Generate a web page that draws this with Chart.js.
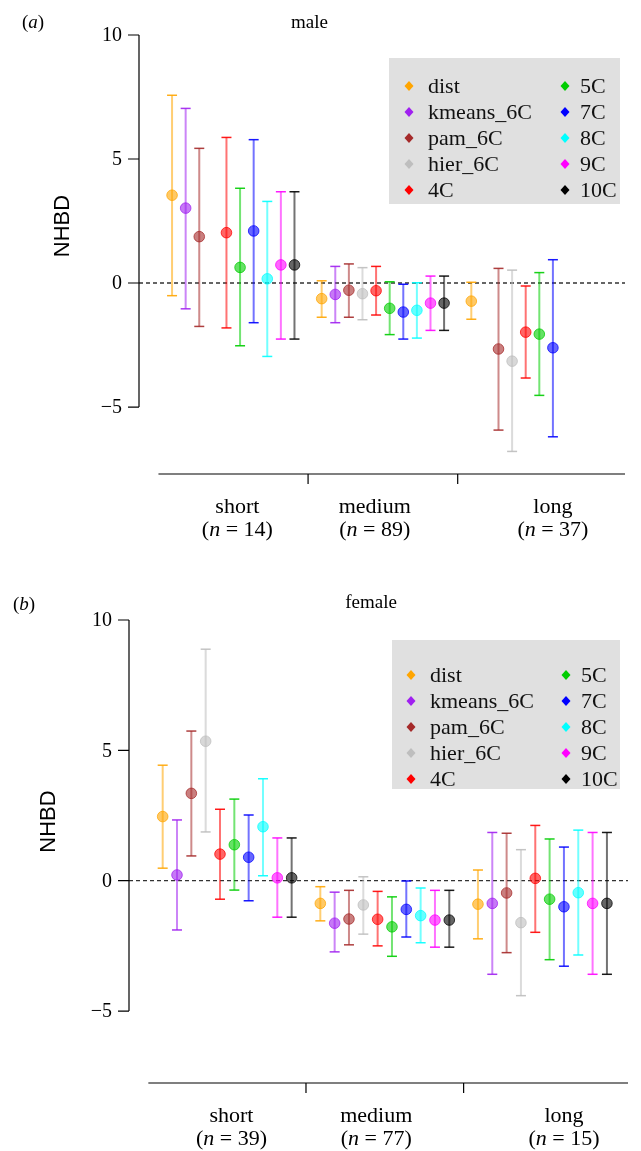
<!DOCTYPE html>
<html lang="en">
<head>
<meta charset="UTF-8" />
<title>NHBD by length class</title>
<script src="https://cdn.jsdelivr.net/npm/chart.js"></script>
<style>
  body { margin: 0; background: #fff; }
  canvas { display: block; }
</style>
</head>
<body>
<canvas id="chartMale" width="641" height="575"></canvas>
<canvas id="chartFemale" width="641" height="576"></canvas>
<script>
  const methods = ['dist', 'kmeans_6C', 'pam_6C', 'hier_6C', '4C', '5C', '7C', '8C', '9C', '10C'];
  const methodColors = ['255,165,0', '160,32,240', '165,42,42', '190,190,190', '255,0,0',
                        '0,205,0', '0,0,255', '0,255,255', '255,0,255', '0,0,0'];
  const groups = ['short', 'medium', 'long'];
  const yTicks = [-5, 0, 5, 10];

  // rows = short, medium, long ; columns follow `methods` ; null = not shown
  const maleN = [14, 89, 37];
  const maleMean = [
    [3.54, 3.02, 1.87, null, 2.03, 0.63, 2.10, 0.17, 0.73, 0.73],
    [-0.63, -0.46, -0.29, -0.43, -0.31, -1.02, -1.17, -1.10, -0.81, -0.81],
    [-0.73, null, -2.66, -3.15, -1.98, -2.06, -2.61, null, null, null]
  ];
  const maleLower = [
    [-0.51, -1.04, -1.75, null, -1.81, -2.53, -1.60, -2.96, -2.26, -2.26],
    [-1.38, -1.60, -1.38, -1.48, -1.29, -2.08, -2.26, -2.22, -1.91, -1.91],
    [-1.46, null, -5.93, -6.79, -3.83, -4.53, -6.20, null, null, null]
  ];
  const maleUpper = [
    [7.57, 7.04, 5.43, null, 5.87, 3.82, 5.78, 3.29, 3.68, 3.68],
    [0.09, 0.67, 0.77, 0.62, 0.67, 0.05, -0.05, 0.01, 0.28, 0.28],
    [0.03, null, 0.59, 0.52, -0.12, 0.42, 0.94, null, null, null]
  ];

  const femaleN = [39, 77, 15];
  const femaleMean = [
    [2.46, 0.22, 3.35, 5.35, 1.02, 1.38, 0.90, 2.07, 0.11, 0.11],
    [-0.87, -1.63, -1.47, -0.93, -1.48, -1.77, -1.10, -1.34, -1.51, -1.51],
    [-0.90, -0.87, -0.47, -1.61, 0.09, -0.71, -1.00, -0.46, -0.87, -0.87]
  ];
  const femaleLower = [
    [0.48, -1.89, 0.95, 1.87, -0.71, -0.36, -0.77, 0.19, -1.40, -1.40],
    [-1.54, -2.73, -2.46, -2.05, -2.50, -2.90, -2.16, -2.38, -2.55, -2.55],
    [-2.23, -3.59, -2.76, -4.41, -1.98, -3.03, -3.28, -2.85, -3.59, -3.59]
  ];
  const femaleUpper = [
    [4.43, 2.33, 5.74, 8.88, 2.74, 3.13, 2.52, 3.91, 1.64, 1.64],
    [-0.23, -0.44, -0.37, 0.15, -0.41, -0.62, -0.01, -0.28, -0.37, -0.37],
    [0.41, 1.85, 1.82, 1.19, 2.12, 1.60, 1.29, 1.94, 1.85, 1.85]
  ];

  // x position of a method inside its group (one empty slot between groups)
  const SLOTS_PER_GROUP = 11;
  const dividerSlots = [10, 21];
  const groupLabelSlots = [4.8, 14.9, 28];

  const SERIF = '"Liberation Serif", "Times New Roman", serif';
  const SANS = '"Liberation Sans", Arial, sans-serif';

  function rgba(c, a) { return `rgba(${c},${a})`; }

  function buildDatasets(mean, lower, upper) {
    const sets = [];
    methods.forEach((m, mi) => {
      const bars = [], dots = [];
      groups.forEach((g, gi) => {
        if (mean[gi][mi] === null) return;
        const x = gi * SLOTS_PER_GROUP + mi;
        bars.push({ x, y: lower[gi][mi] }, { x, y: upper[gi][mi] }, { x, y: null });
        dots.push({ x, y: mean[gi][mi] });
      });
      const c = methodColors[mi];
      sets.push({
        label: m,
        data: dots,
        backgroundColor: rgba(c, 0.6),
        borderColor: rgba(c, 0.75),
        borderWidth: 1,
        pointRadius: 5.3,
        clip: false
      });
      sets.push({
        label: m + ' CI',
        data: bars,
        showLine: true,
        spanGaps: false,
        borderColor: rgba(c, 0.55),
        borderWidth: 2,
        pointStyle: 'line',
        pointRadius: 5,
        pointBorderColor: rgba(c, 0.9),
        pointBorderWidth: 1.5,
        clip: false
      });
    });
    return sets;
  }

  function drawSerifPieces(ctx, pieces, cx, cy, size) {
    let w = 0;
    pieces.forEach(p => {
      ctx.font = `${p.italic ? 'italic ' : ''}${size}px ${SERIF}`;
      w += ctx.measureText(p.t).width;
    });
    let x = cx - w / 2;
    ctx.textAlign = 'left';
    pieces.forEach(p => {
      ctx.font = `${p.italic ? 'italic ' : ''}${size}px ${SERIF}`;
      ctx.fillText(p.t, x, cy);
      x += ctx.measureText(p.t).width;
    });
  }

  const rAxes = {
    id: 'rAxes',
    beforeDatasetsDraw(chart) {
      const { ctx, chartArea, scales: { y } } = chart;
      const y0 = y.getPixelForValue(0);
      ctx.save();
      ctx.strokeStyle = '#333';
      ctx.lineWidth = 1.3;
      ctx.setLineDash([4, 3]);
      ctx.beginPath();
      ctx.moveTo(chartArea.left, y0);
      ctx.lineTo(chartArea.right, y0);
      ctx.stroke();
      ctx.restore();
    },
    afterDraw(chart, args, opts) {
      const { ctx, chartArea, scales: { x, y } } = chart;
      ctx.save();
      ctx.strokeStyle = '#000';
      ctx.fillStyle = '#000';
      ctx.lineWidth = 1.2;

      // y axis
      const ax = chartArea.left;
      ctx.beginPath();
      ctx.moveTo(ax, y.getPixelForValue(yTicks[yTicks.length - 1]));
      ctx.lineTo(ax, y.getPixelForValue(yTicks[0]));
      yTicks.forEach(t => {
        const py = y.getPixelForValue(t);
        ctx.moveTo(ax - 11, py);
        ctx.lineTo(ax, py);
      });
      ctx.stroke();
      ctx.font = `20px ${SERIF}`;
      ctx.textAlign = 'right';
      ctx.textBaseline = 'middle';
      yTicks.forEach(t => {
        ctx.fillText(t < 0 ? '\u2212' + Math.abs(t) : String(t), ax - 17, y.getPixelForValue(t) + 1);
      });

      // x axis
      const by = chartArea.bottom;
      ctx.beginPath();
      ctx.moveTo(x.getPixelForValue(-1), by);
      ctx.lineTo(chartArea.right, by);
      dividerSlots.forEach(s => {
        const px = x.getPixelForValue(s);
        ctx.moveTo(px, by);
        ctx.lineTo(px, by + 10);
      });
      ctx.stroke();
      groups.forEach((g, gi) => {
        const px = x.getPixelForValue(groupLabelSlots[gi]);
        ctx.font = `22px ${SERIF}`;
        ctx.textAlign = 'center';
        ctx.fillText(g, px, by + 33);
        drawSerifPieces(ctx, [{ t: '(' }, { t: 'n', italic: true }, { t: ' = ' + opts.n[gi] + ')' }], px, by + 56, 22);
      });

      // y label
      ctx.save();
      ctx.translate(opts.ylabPos[0], opts.ylabPos[1]);
      ctx.rotate(-Math.PI / 2);
      ctx.font = `22px ${SANS}`;
      ctx.textAlign = 'center';
      ctx.fillText('NHBD', 0, 0);
      ctx.restore();

      // title and panel tag
      ctx.font = `19px ${SERIF}`;
      ctx.textAlign = 'center';
      ctx.fillText(opts.title, opts.titlePos[0], opts.titlePos[1]);
      drawSerifPieces(ctx, [{ t: '(' }, { t: opts.tag, italic: true }, { t: ')' }], opts.tagPos[0], opts.tagPos[1], 19);

      // legend
      const L = opts.legend;
      ctx.fillStyle = '#e0e0e0';
      ctx.fillRect(L.x, L.y, L.w, L.h);
      ctx.font = `22px ${SERIF}`;
      ctx.textAlign = 'left';
      methods.forEach((m, mi) => {
        const col = Math.floor(mi / 5), row = mi % 5;
        const ry = L.row0 + row * L.rowGap;
        const mx = col ? L.marker2 : L.marker1;
        ctx.fillStyle = rgba(methodColors[mi], 1);
        ctx.beginPath();
        ctx.moveTo(mx, ry - 5);
        ctx.lineTo(mx + 4.5, ry);
        ctx.lineTo(mx, ry + 5);
        ctx.lineTo(mx - 4.5, ry);
        ctx.closePath();
        ctx.fill();
        ctx.fillStyle = '#111';
        ctx.fillText(m, col ? L.text2 : L.text1, ry + 1);
      });
      ctx.restore();
    }
  };

  function makePanel(id, mean, lower, upper, n, layout) {
    return new Chart(document.getElementById(id), {
      type: 'scatter',
      data: { datasets: buildDatasets(mean, lower, upper) },
      options: {
        responsive: false,
        animation: false,
        events: [],
        layout: { padding: layout.padding },
        scales: {
          x: { type: 'linear', min: layout.xRange[0], max: layout.xRange[1], display: false },
          y: { type: 'linear', min: layout.yRange[0], max: layout.yRange[1], display: false }
        },
        plugins: {
          legend: { display: false },
          tooltip: { enabled: false },
          rAxes: {
            n: n,
            title: layout.title,
            tag: layout.tag,
            titlePos: layout.titlePos,
            tagPos: layout.tagPos,
            ylabPos: layout.ylabPos,
            legend: layout.legend
          }
        }
      },
      plugins: [rAxes]
    });
  }

  makePanel('chartMale', maleMean, maleLower, maleUpper, maleN, {
    padding: { left: 139, right: 16, top: 35, bottom: 101 },
    xRange: [-2.43, 33.3],
    yRange: [-7.70, 10],
    title: 'male', tag: 'a',
    titlePos: [309.5, 23], tagPos: [33, 23], ylabPos: [63, 226],
    legend: { x: 389, y: 58, w: 231, h: 146, row0: 86, rowGap: 26,
              marker1: 409, text1: 428, marker2: 565, text2: 580 }
  });

  makePanel('chartFemale', femaleMean, femaleLower, femaleUpper, femaleN, {
    padding: { left: 129, right: 13, top: 45, bottom: 68 },
    xRange: [-2.35, 32.47],
    yRange: [-7.76, 10],
    title: 'female', tag: 'b',
    titlePos: [371, 28], tagPos: [24, 30], ylabPos: [48.5, 246.5],
    legend: { x: 392, y: 65, w: 228, h: 149, row0: 100, rowGap: 26,
              marker1: 411, text1: 430, marker2: 566, text2: 581 }
  });
</script>
</body>
</html>
